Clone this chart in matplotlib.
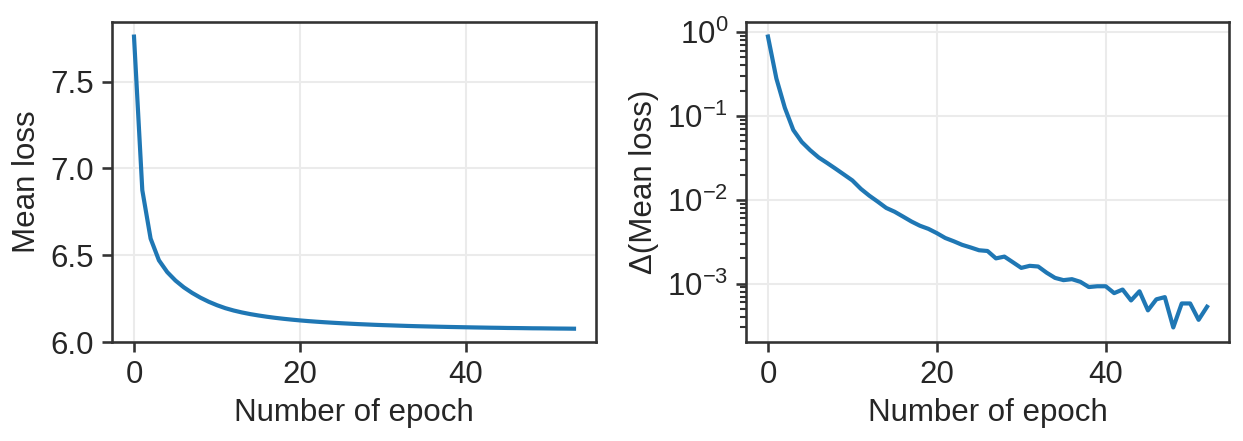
import numpy as np
import matplotlib
matplotlib.use("Agg")
import matplotlib.pyplot as plt

plt.rcParams['font.family'] = ['Liberation Sans', 'DejaVu Sans']
plt.rcParams['mathtext.fontset'] = 'custom'
plt.rcParams['mathtext.rm'] = 'Liberation Sans'
plt.rcParams['mathtext.it'] = 'Liberation Sans:italic'
plt.rcParams['mathtext.bf'] = 'Liberation Sans:bold'

# Data
loss_start = 7.76
delta_loss = [0.885, 0.279, 0.125, 0.068, 0.049, 0.039, 0.032, 0.0275, 0.0235, 0.020,
              0.017, 0.0135, 0.0112, 0.0095, 0.0080, 0.0072, 0.0063, 0.0055, 0.0049, 0.0045,
              0.0040, 0.0035, 0.0032, 0.0029, 0.0027, 0.0025, 0.00245, 0.0020, 0.0021, 0.0018,
              0.00154, 0.00163, 0.0016, 0.00135, 0.00117, 0.0011, 0.00113, 0.00105, 0.00091, 0.00093,
              0.00093, 0.00077, 0.00085, 0.00063, 0.00081, 0.00048, 0.00065, 0.00069, 0.00030, 0.00058,
              0.00058, 0.00037, 0.00053]
mean_loss = np.concatenate([[loss_start], loss_start - np.cumsum(delta_loss)])
epochs_loss = np.arange(len(mean_loss))
epochs_delta = np.arange(len(delta_loss))

W, H = 1243, 441
fig = plt.figure(figsize=(W / 150, H / 150), dpi=150)
ax1 = fig.add_axes([112 / W, 1 - 342 / H, (596 - 112) / W, (342 - 22) / H])
ax2 = fig.add_axes([746 / W, 1 - 342 / H, (1229 - 746) / W, (342 - 22) / H])

col = '#1f77b4'
spine_col = '#333333'
for ax in (ax1, ax2):
    ax.grid(True, color='#ebebeb', lw=1.0, zorder=0)
    ax.set_axisbelow(True)
    for s in ax.spines.values():
        s.set_color(spine_col)
        s.set_linewidth(1.25)
    ax.tick_params(axis='both', which='major', labelsize=15, length=5, width=1.25,
                   color=spine_col, labelcolor='#262626')
    ax.tick_params(axis='both', which='minor', length=3, width=1.0, color=spine_col)
    ax.set_xlabel('Number of epoch', fontsize=15, color='#262626')

ax1.plot(epochs_loss, mean_loss, color=col, lw=2)
ax1.set_ylabel('Mean loss', fontsize=15, color='#262626')
ax1.set_yticks([6.0, 6.5, 7.0, 7.5])
ax1.set_ylim(bottom=6.0)
ax1.set_xticks([0, 20, 40])

ax2.plot(epochs_delta, delta_loss, color=col, lw=2)
ax2.set_yscale('log')
ax2.set_ylabel('Δ(Mean loss)', fontsize=15, color='#262626')
ax2.set_xticks([0, 20, 40])
ax2.set_yticks([1e-3, 1e-2, 1e-1, 1e0])

fig.savefig('out.png', dpi=150)
